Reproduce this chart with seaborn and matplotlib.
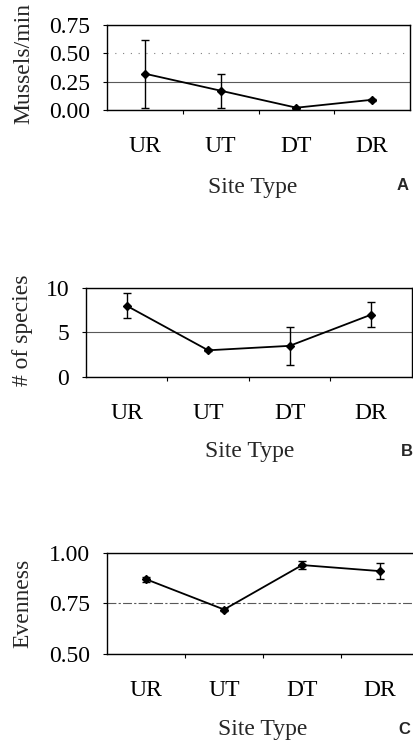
import seaborn as sns
import matplotlib.pyplot as plt
import matplotlib.ticker as mticker
import pandas as pd
import numpy as np

sns.set_theme(style='white')
plt.rcParams['font.family'] = ['Liberation Serif', 'DejaVu Serif']

sites = ['UR', 'UT', 'DT', 'DR']

mussels = [0.32, 0.17, 0.02, 0.09]
mussels_err = [0.30, 0.15, 0.01, 0.008]

species = [8.0, 3.0, 3.5, 7.0]
species_err = [1.4, 0.1, 2.1, 1.4]

evenness = [0.87, 0.72, 0.94, 0.91]
evenness_err = [0.012, 0.006, 0.018, 0.04]

panels = [
    # values, errors, ylabel, ylim, yticks, fmt, letter, axes rect
    (mussels, mussels_err, 'Mussels/min', (0, 0.75), [0, 0.25, 0.5, 0.75], '%.2f', 'A',
     [0.2585, 0.852, 0.732, 0.1144]),
    (species, species_err, '# of species', (0, 10), [0, 5, 10], '%d', 'B',
     [0.2077, 0.4926, 0.787, 0.1198]),
    (evenness, evenness_err, 'Evenness', (0.5, 1.0), [0.5, 0.75, 1.0], '%.2f', 'C',
     [0.2585, 0.1198, 0.754, 0.136]),
]

# text centres in pixels (x, y from top)
ylab_pos = [(24, 64), (23, 330), (23, 603)]
xlab_pos = [(253, 187), (250, 452), (263, 730)]
letter_pos = [(403, 185), (407, 452), (404, 730)]

fs = 17
W, H = 414, 743
fig = plt.figure(figsize=(W / 100, H / 100), dpi=100)

for i, (vals, errs, ylab, ylim, yticks, fmt, letter, rect) in enumerate(panels):
    ax = fig.add_axes(rect)
    df = pd.DataFrame({'site': sites, 'value': vals})
    sns.pointplot(data=df, x='site', y='value', order=sites, color='black',
                  markers='D', markersize=4, linewidth=1.3, errorbar=None, ax=ax)
    ax.errorbar(np.arange(len(sites)), vals, yerr=errs, fmt='none',
                ecolor='black', elinewidth=1, capsize=3, capthick=1)

    ax.set_xlim(-0.5, len(sites) - 0.5)
    ax.set_ylim(*ylim)
    ax.set_yticks(yticks)
    ax.yaxis.set_major_formatter(mticker.FormatStrFormatter(fmt))
    ax.set_xticks(np.arange(len(sites)))
    ax.set_xticklabels(sites)
    ax.set_xticks(np.arange(len(sites) - 1) + 0.5, minor=True)

    ax.tick_params(axis='x', which='major', length=0, pad=19, labelsize=fs, colors='black')
    ax.tick_params(axis='x', which='minor', length=3, width=0.8, direction='out',
                   bottom=True, color='black')
    ax.tick_params(axis='y', length=3, width=0.8, direction='out', left=True,
                   pad=9, labelsize=fs, colors='black')

    ax.yaxis.grid(True, color='0.35', linewidth=0.8)
    ax.set_axisbelow(True)
    if i == 0:
        ax.get_ygridlines()[2].set_linestyle((0, (1, 6)))
        ax.get_ygridlines()[2].set_color('0.5')
    if i == 2:
        ax.get_ygridlines()[1].set_linestyle((0, (8, 2, 2, 2)))

    for sp in ax.spines.values():
        sp.set_visible(True)
        sp.set_color('black')
        sp.set_linewidth(1)

    ax.set_xlabel('')
    ax.set_ylabel('')

    fig.text(ylab_pos[i][0] / W, 1 - ylab_pos[i][1] / H, ylab, rotation=90,
             ha='center', va='center', fontsize=fs)
    fig.text(xlab_pos[i][0] / W, 1 - xlab_pos[i][1] / H, 'Site Type',
             ha='center', va='center', fontsize=fs)
    fig.text(letter_pos[i][0] / W, 1 - letter_pos[i][1] / H, letter,
             ha='center', va='center', fontsize=12, fontweight='bold',
             family=['Liberation Sans', 'DejaVu Sans'])

fig.savefig('out.png', dpi=100)
